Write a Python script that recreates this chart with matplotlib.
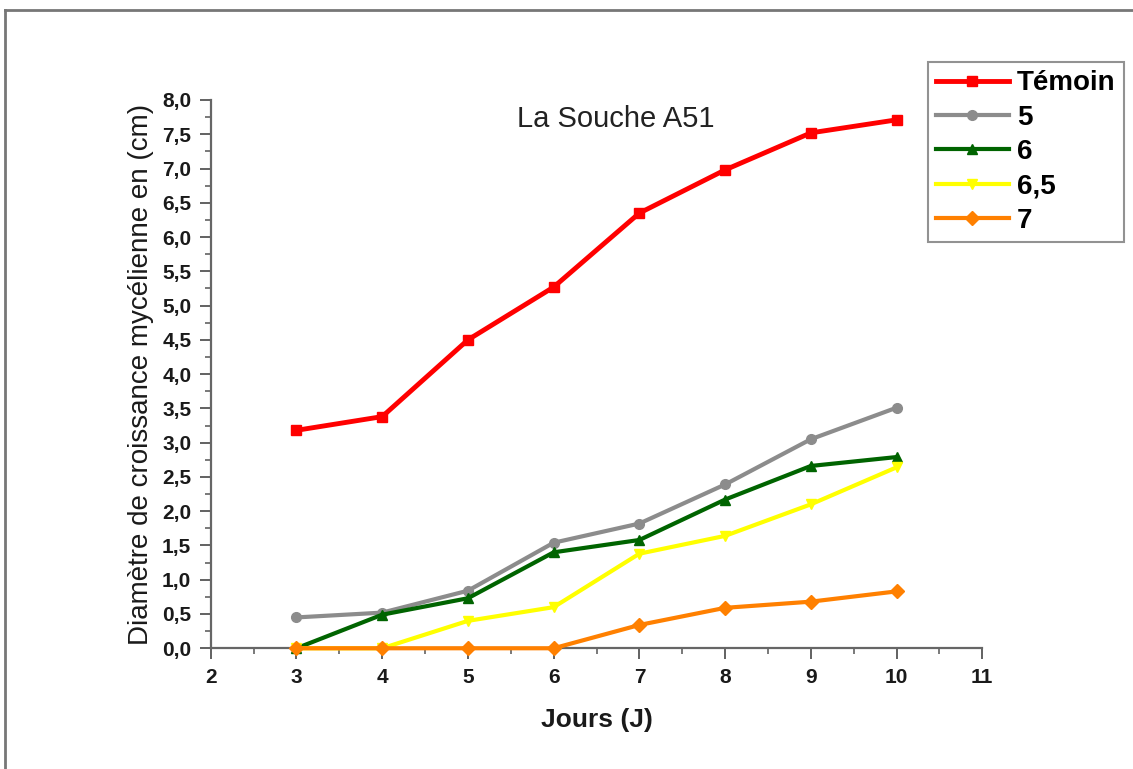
import matplotlib.pyplot as plt
from matplotlib.ticker import MultipleLocator, FuncFormatter
from matplotlib.lines import Line2D

plt.rcParams['font.family'] = ['Liberation Sans', 'DejaVu Sans']

jours = [3, 4, 5, 6, 7, 8, 9, 10]
temoin = [3.18, 3.38, 4.50, 5.27, 6.35, 6.98, 7.52, 7.71]
conc_5 = [0.45, 0.52, 0.84, 1.54, 1.82, 2.39, 3.05, 3.51]
conc_6 = [0.00, 0.49, 0.73, 1.40, 1.58, 2.17, 2.66, 2.79]
conc_65 = [0.00, 0.00, 0.40, 0.60, 1.38, 1.64, 2.10, 2.64]
conc_7 = [0.00, 0.00, 0.00, 0.00, 0.34, 0.59, 0.68, 0.83]

series = [
    ("Témoin", temoin, "#ff0000", "s", 3.5),
    ("5", conc_5, "#8c8c8c", "o", 3.0),
    ("6", conc_6, "#006400", "^", 3.0),
    ("6,5", conc_65, "#ffff00", "v", 3.0),
    ("7", conc_7, "#ff8000", "D", 3.0),
]

fig = plt.figure(figsize=(11.33, 7.69), dpi=100)
ax = fig.add_axes([0.186, 0.157, 0.681, 0.713])

handles = []
for label, vals, color, marker, lw in series:
    line, = ax.plot(jours, vals, color=color, marker=marker, markersize=7,
                    linewidth=lw, label=label, clip_on=False, zorder=3)
    handles.append(line)

ax.set_xlim(2, 11)
ax.set_ylim(0, 8)
ax.xaxis.set_major_locator(MultipleLocator(1))
ax.xaxis.set_minor_locator(MultipleLocator(0.5))
ax.yaxis.set_major_locator(MultipleLocator(0.5))
ax.yaxis.set_minor_locator(MultipleLocator(0.25))
ax.yaxis.set_major_formatter(FuncFormatter(lambda v, p: f"{v:.1f}".replace(".", ",")))

ax.tick_params(which='major', direction='out', length=8, width=1.3, colors='#555555',
               labelcolor='#1a1a1a', labelsize=15, pad=6)
ax.tick_params(which='minor', direction='out', length=4, width=1.1, colors='#555555')
for lab in ax.get_xticklabels() + ax.get_yticklabels():
    lab.set_fontweight('bold')
ax.spines['top'].set_visible(False)
ax.spines['right'].set_visible(False)
for s in ['left', 'bottom']:
    ax.spines[s].set_color('#666666')
    ax.spines[s].set_linewidth(1.6)

ax.set_xlabel("Jours (J)", fontsize=19, fontweight='bold', labelpad=15, color='#1a1a1a')
ax.set_ylabel("Diamètre de croissance mycélienne en (cm)", fontsize=20, labelpad=6,
              color='#1a1a1a')
ax.text(0.525, 0.965, "La Souche A51", transform=ax.transAxes, ha='center', va='center',
        fontsize=21, color='#222222')

leg = fig.legend(handles=handles, loc='upper left', bbox_to_anchor=(928 / 1133, 1 - 62 / 769),
                 borderaxespad=0, frameon=True, fancybox=False, handlelength=2.6,
                 handletextpad=0.3, labelspacing=0.3, borderpad=0.3,
                 prop={'size': 20, 'weight': 'bold'})
leg.get_frame().set_edgecolor('#777777')
leg.get_frame().set_linewidth(1.5)

# outer frame of the picture
fig.add_artist(Line2D([0.004, 1.0], [0.987, 0.987], transform=fig.transFigure,
                      color='#777777', linewidth=2))
fig.add_artist(Line2D([0.004, 0.004], [0.0, 0.987], transform=fig.transFigure,
                      color='#777777', linewidth=2))

fig.savefig("out.png", dpi=100)
